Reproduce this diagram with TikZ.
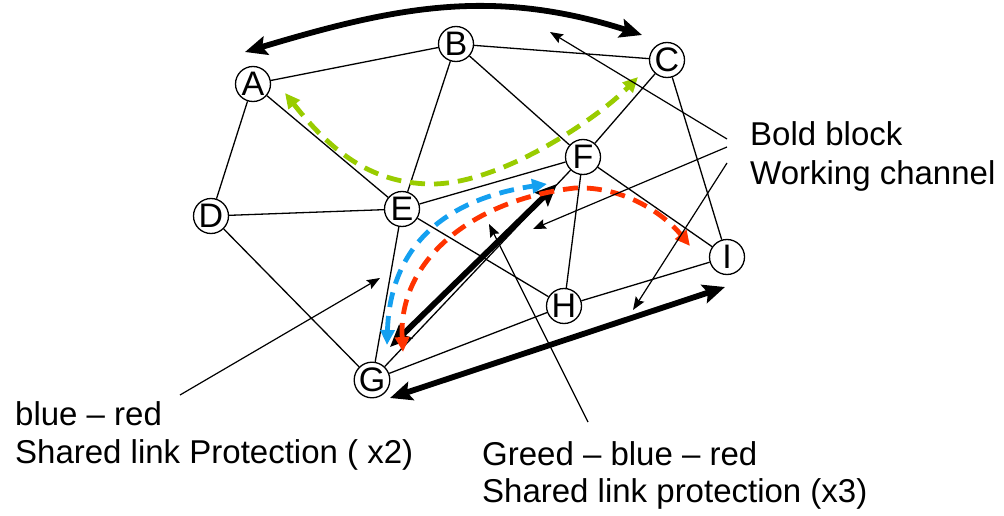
\documentclass[tikz,border=0pt]{standalone}
\usepackage{fontspec}
\setmainfont{Liberation Sans}
\usetikzlibrary{arrows.meta}
\definecolor{pgreen}{RGB}{153,204,0}
\definecolor{pblue}{RGB}{20,160,240}
\definecolor{pred}{RGB}{255,51,0}
\begin{document}
\begin{tikzpicture}[x=1pt,y=-1pt,
  vtx/.style={circle,draw,line width=1.3pt,fill=white,minimum size=35pt,inner sep=0pt,font=\fontsize{34}{34}\selectfont},
  edge/.style={line width=1.3pt},
  boldarr/.style={line width=5.8pt,{Stealth[length=22pt,width=19pt,inset=4pt]}-{Stealth[length=22pt,width=19pt,inset=4pt]}},
  note/.style={line width=1.2pt,-{Stealth[length=13pt,width=10pt,inset=2pt]}},
  dpath/.style={line width=4.8pt,dash pattern=on 15pt off 9pt,{Triangle[length=15pt,width=14pt]}-{Triangle[length=15pt,width=14pt]}},
  lbl/.style={anchor=base west,inner sep=0pt,font=\fontsize{33}{38}\selectfont}
]
\path[use as bounding box] (0,0) rectangle (1004,516);

% vertices
\node[vtx] (A) at (253,84) {A};
\node[vtx] (B) at (456,44) {B};
\node[vtx] (C) at (667,60) {C};
\node[vtx] (D) at (211,216) {D};
\node[vtx] (E) at (402,209) {E};
\node[vtx] (F) at (583,157) {F};
\node[vtx] (G) at (372,380) {G};
\node[vtx] (H) at (564,306) {H};
\node[vtx] (I) at (727,257) {I};

% edges
\draw[edge] (A) -- (B);
\draw[edge] (B) -- (C);
\draw[edge] (A) -- (D);
\draw[edge] (A) -- (E);
\draw[edge] (B) -- (E);
\draw[edge] (B) -- (F);
\draw[edge] (C) -- (F);
\draw[edge] (C) -- (I);
\draw[edge] (D) -- (E);
\draw[edge] (D) -- (G);
\draw[edge] (E) -- (F);
\draw[edge] (E) -- (G);
\draw[edge] (E) -- (H);
\draw[edge] (F) -- (H);
\draw[edge] (F) -- (I);
\draw[edge] (G) -- (H);
\draw[edge] (H) -- (I);
\draw[edge] (G) -- (F);

% coordinates for arrows
\coordinate (tl) at (245,52);
\coordinate (tr) at (642,35);
\coordinate (bl) at (390,398);
\coordinate (br) at (725,287);
\coordinate (wg) at (390,347);
\coordinate (wf) at (557,184);

% bold arrows
\draw[boldarr] (tl) .. controls (395,7) and (492,-13) .. (tr);
\draw[boldarr] (bl) -- (br);
\draw[boldarr] (wg) -- (wf);

% dashed protection paths
\coordinate (ga) at (285,93);
\coordinate (gm) at (430,184);
\coordinate (gc) at (638,77);
\draw[dpath,pgreen] (ga) .. controls (330,150) and (370,183) .. (gm) .. controls (500,185) and (598,118) .. (gc);
\coordinate (bg) at (387,345);
\coordinate (bf) at (547,184);
\draw[dpath,pblue] (bg) .. controls (390,250) and (440,200) .. (bf);
\coordinate (rg) at (403,352);
\coordinate (rm) at (575,188);
\coordinate (ri) at (690,246);
\draw[dpath,pred] (rg) .. controls (398,262) and (470,200) .. (rm) .. controls (625,186) and (665,215) .. (ri);

% labels
\node[lbl] (t1) at (750,146) {Bold block};
\node[lbl] (t2) at (750,185) {Working channel};
\node[lbl] (t3) at (15,425) {blue – red};
\node[lbl] (t4) at (15,463) {Shared link Protection ( x2)};
\node[lbl] (t5) at (482,465) {Greed – blue – red};
\node[lbl] (t6) at (482,502) {Shared link protection (x3)};

% annotation pointers
\coordinate (n1s) at (727,139);
\coordinate (n1e) at (550,32);
\coordinate (n2s) at (727,147);
\coordinate (n2e) at (533,229);
\coordinate (n3s) at (727,163);
\coordinate (n3e) at (633,310);
\coordinate (n4s) at (180,395);
\coordinate (n4e) at (380,278);
\coordinate (n5s) at (588,422);
\coordinate (n5e) at (489,224);
\draw[note] (n1s) -- (n1e);
\draw[note] (n2s) -- (n2e);
\draw[note] (n3s) -- (n3e);
\draw[note] (n4s) -- (n4e);
\draw[note] (n5s) -- (n5e);
\end{tikzpicture}
\end{document}
